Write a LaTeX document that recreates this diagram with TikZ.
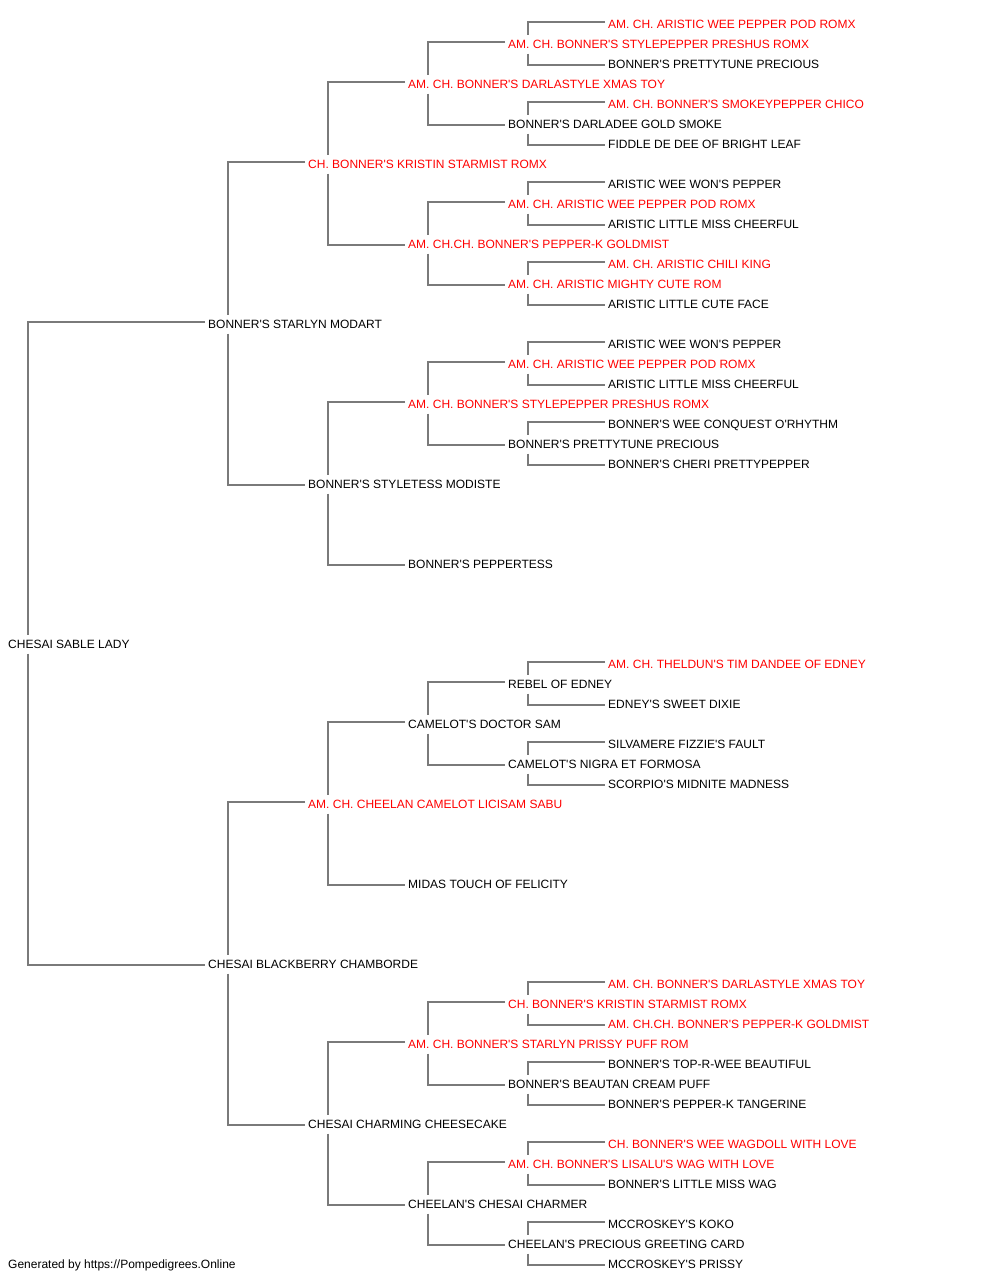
\documentclass[tikz,border=0pt]{standalone}
\usepackage{fontspec}
\setmainfont{Liberation Sans}[Ligatures=TeXOff]
\definecolor{linegray}{RGB}{122,122,122}
\definecolor{champred}{RGB}{255,0,0}

\begin{document}
\begin{tikzpicture}[x=1pt,y=-1pt,
  dog/.style={anchor=west,inner xsep=3pt,inner ysep=5pt,text height=8.6pt,text depth=0pt,font=\fontsize{12}{14}\selectfont},
  champ/.style={dog,text=champred},
  link/.style={draw=linegray,line width=2pt}]
\useasboundingbox (0,0) rectangle (1000,1280);
\node[dog] (p) at (5,644) {CHESAI SABLE LADY};
\node[dog] (p1) at (205,324) {BONNER'S STARLYN MODART};
\node[dog] (p2) at (205,964) {CHESAI BLACKBERRY CHAMBORDE};
\node[champ] (p11) at (305,164) {CH. BONNER'S KRISTIN STARMIST ROMX};
\node[dog] (p12) at (305,484) {BONNER'S STYLETESS MODISTE};
\node[champ] (p21) at (305,804) {AM. CH. CHEELAN CAMELOT LICISAM SABU};
\node[dog] (p22) at (305,1124) {CHESAI CHARMING CHEESECAKE};
\node[champ] (p111) at (405,84) {AM. CH. BONNER'S DARLASTYLE XMAS TOY};
\node[champ] (p112) at (405,244) {AM. CH.CH. BONNER'S PEPPER-K GOLDMIST};
\node[champ] (p121) at (405,404) {AM. CH. BONNER'S STYLEPEPPER PRESHUS ROMX};
\node[dog] (p122) at (405,564) {BONNER'S PEPPERTESS};
\node[dog] (p211) at (405,724) {CAMELOT'S DOCTOR SAM};
\node[dog] (p212) at (405,884) {MIDAS TOUCH OF FELICITY};
\node[champ] (p221) at (405,1044) {AM. CH. BONNER'S STARLYN PRISSY PUFF ROM};
\node[dog] (p222) at (405,1204) {CHEELAN'S CHESAI CHARMER};
\node[champ] (p1111) at (505,44) {AM. CH. BONNER'S STYLEPEPPER PRESHUS ROMX};
\node[dog] (p1112) at (505,124) {BONNER'S DARLADEE GOLD SMOKE};
\node[champ] (p1121) at (505,204) {AM. CH. ARISTIC WEE PEPPER POD ROMX};
\node[champ] (p1122) at (505,284) {AM. CH. ARISTIC MIGHTY CUTE ROM};
\node[champ] (p1211) at (505,364) {AM. CH. ARISTIC WEE PEPPER POD ROMX};
\node[dog] (p1212) at (505,444) {BONNER'S PRETTYTUNE PRECIOUS};
\node[dog] (p2111) at (505,684) {REBEL OF EDNEY};
\node[dog] (p2112) at (505,764) {CAMELOT'S NIGRA ET FORMOSA};
\node[champ] (p2211) at (505,1004) {CH. BONNER'S KRISTIN STARMIST ROMX};
\node[dog] (p2212) at (505,1084) {BONNER'S BEAUTAN CREAM PUFF};
\node[champ] (p2221) at (505,1164) {AM. CH. BONNER'S LISALU'S WAG WITH LOVE};
\node[dog] (p2222) at (505,1244) {CHEELAN'S PRECIOUS GREETING CARD};
\node[champ] (p11111) at (605,24) {AM. CH. ARISTIC WEE PEPPER POD ROMX};
\node[dog] (p11112) at (605,64) {BONNER'S PRETTYTUNE PRECIOUS};
\node[champ] (p11121) at (605,104) {AM. CH. BONNER'S SMOKEYPEPPER CHICO};
\node[dog] (p11122) at (605,144) {FIDDLE DE DEE OF BRIGHT LEAF};
\node[dog] (p11211) at (605,184) {ARISTIC WEE WON'S PEPPER};
\node[dog] (p11212) at (605,224) {ARISTIC LITTLE MISS CHEERFUL};
\node[champ] (p11221) at (605,264) {AM. CH. ARISTIC CHILI KING};
\node[dog] (p11222) at (605,304) {ARISTIC LITTLE CUTE FACE};
\node[dog] (p12111) at (605,344) {ARISTIC WEE WON'S PEPPER};
\node[dog] (p12112) at (605,384) {ARISTIC LITTLE MISS CHEERFUL};
\node[dog] (p12121) at (605,424) {BONNER'S WEE CONQUEST O'RHYTHM};
\node[dog] (p12122) at (605,464) {BONNER'S CHERI PRETTYPEPPER};
\node[champ] (p21111) at (605,664) {AM. CH. THELDUN'S TIM DANDEE OF EDNEY};
\node[dog] (p21112) at (605,704) {EDNEY'S SWEET DIXIE};
\node[dog] (p21121) at (605,744) {SILVAMERE FIZZIE'S FAULT};
\node[dog] (p21122) at (605,784) {SCORPIO'S MIDNITE MADNESS};
\node[champ] (p22111) at (605,984) {AM. CH. BONNER'S DARLASTYLE XMAS TOY};
\node[champ] (p22112) at (605,1024) {AM. CH.CH. BONNER'S PEPPER-K GOLDMIST};
\node[dog] (p22121) at (605,1064) {BONNER'S TOP-R-WEE BEAUTIFUL};
\node[dog] (p22122) at (605,1104) {BONNER'S PEPPER-K TANGERINE};
\node[champ] (p22211) at (605,1144) {CH. BONNER'S WEE WAGDOLL WITH LOVE};
\node[dog] (p22212) at (605,1184) {BONNER'S LITTLE MISS WAG};
\node[dog] (p22221) at (605,1224) {MCCROSKEY'S KOKO};
\node[dog] (p22222) at (605,1264) {MCCROSKEY'S PRISSY};
\node[dog] (footer) at (5,1264) {Generated by https://Pompedigrees.Online};
\draw[link] ([yshift=2pt]p1.west) -| ([xshift=23pt]p.north west) ([xshift=23pt]p.south west) |- ([yshift=-1pt]p2.west);
\draw[link] ([yshift=2pt]p11.west) -| ([xshift=23pt]p1.north west) ([xshift=23pt]p1.south west) |- ([yshift=-1pt]p12.west);
\draw[link] ([yshift=2pt]p21.west) -| ([xshift=23pt]p2.north west) ([xshift=23pt]p2.south west) |- ([yshift=-1pt]p22.west);
\draw[link] ([yshift=2pt]p111.west) -| ([xshift=23pt]p11.north west) ([xshift=23pt]p11.south west) |- ([yshift=-1pt]p112.west);
\draw[link] ([yshift=2pt]p121.west) -| ([xshift=23pt]p12.north west) ([xshift=23pt]p12.south west) |- ([yshift=-1pt]p122.west);
\draw[link] ([yshift=2pt]p211.west) -| ([xshift=23pt]p21.north west) ([xshift=23pt]p21.south west) |- ([yshift=-1pt]p212.west);
\draw[link] ([yshift=2pt]p221.west) -| ([xshift=23pt]p22.north west) ([xshift=23pt]p22.south west) |- ([yshift=-1pt]p222.west);
\draw[link] ([yshift=2pt]p1111.west) -| ([xshift=23pt]p111.north west) ([xshift=23pt]p111.south west) |- ([yshift=-1pt]p1112.west);
\draw[link] ([yshift=2pt]p1121.west) -| ([xshift=23pt]p112.north west) ([xshift=23pt]p112.south west) |- ([yshift=-1pt]p1122.west);
\draw[link] ([yshift=2pt]p1211.west) -| ([xshift=23pt]p121.north west) ([xshift=23pt]p121.south west) |- ([yshift=-1pt]p1212.west);
\draw[link] ([yshift=2pt]p2111.west) -| ([xshift=23pt]p211.north west) ([xshift=23pt]p211.south west) |- ([yshift=-1pt]p2112.west);
\draw[link] ([yshift=2pt]p2211.west) -| ([xshift=23pt]p221.north west) ([xshift=23pt]p221.south west) |- ([yshift=-1pt]p2212.west);
\draw[link] ([yshift=2pt]p2221.west) -| ([xshift=23pt]p222.north west) ([xshift=23pt]p222.south west) |- ([yshift=-1pt]p2222.west);
\draw[link] ([yshift=2pt]p11111.west) -| ([xshift=23pt]p1111.north west) ([xshift=23pt]p1111.south west) |- ([yshift=-1pt]p11112.west);
\draw[link] ([yshift=2pt]p11121.west) -| ([xshift=23pt]p1112.north west) ([xshift=23pt]p1112.south west) |- ([yshift=-1pt]p11122.west);
\draw[link] ([yshift=2pt]p11211.west) -| ([xshift=23pt]p1121.north west) ([xshift=23pt]p1121.south west) |- ([yshift=-1pt]p11212.west);
\draw[link] ([yshift=2pt]p11221.west) -| ([xshift=23pt]p1122.north west) ([xshift=23pt]p1122.south west) |- ([yshift=-1pt]p11222.west);
\draw[link] ([yshift=2pt]p12111.west) -| ([xshift=23pt]p1211.north west) ([xshift=23pt]p1211.south west) |- ([yshift=-1pt]p12112.west);
\draw[link] ([yshift=2pt]p12121.west) -| ([xshift=23pt]p1212.north west) ([xshift=23pt]p1212.south west) |- ([yshift=-1pt]p12122.west);
\draw[link] ([yshift=2pt]p21111.west) -| ([xshift=23pt]p2111.north west) ([xshift=23pt]p2111.south west) |- ([yshift=-1pt]p21112.west);
\draw[link] ([yshift=2pt]p21121.west) -| ([xshift=23pt]p2112.north west) ([xshift=23pt]p2112.south west) |- ([yshift=-1pt]p21122.west);
\draw[link] ([yshift=2pt]p22111.west) -| ([xshift=23pt]p2211.north west) ([xshift=23pt]p2211.south west) |- ([yshift=-1pt]p22112.west);
\draw[link] ([yshift=2pt]p22121.west) -| ([xshift=23pt]p2212.north west) ([xshift=23pt]p2212.south west) |- ([yshift=-1pt]p22122.west);
\draw[link] ([yshift=2pt]p22211.west) -| ([xshift=23pt]p2221.north west) ([xshift=23pt]p2221.south west) |- ([yshift=-1pt]p22212.west);
\draw[link] ([yshift=2pt]p22221.west) -| ([xshift=23pt]p2222.north west) ([xshift=23pt]p2222.south west) |- ([yshift=-1pt]p22222.west);
\end{tikzpicture}
\end{document}
